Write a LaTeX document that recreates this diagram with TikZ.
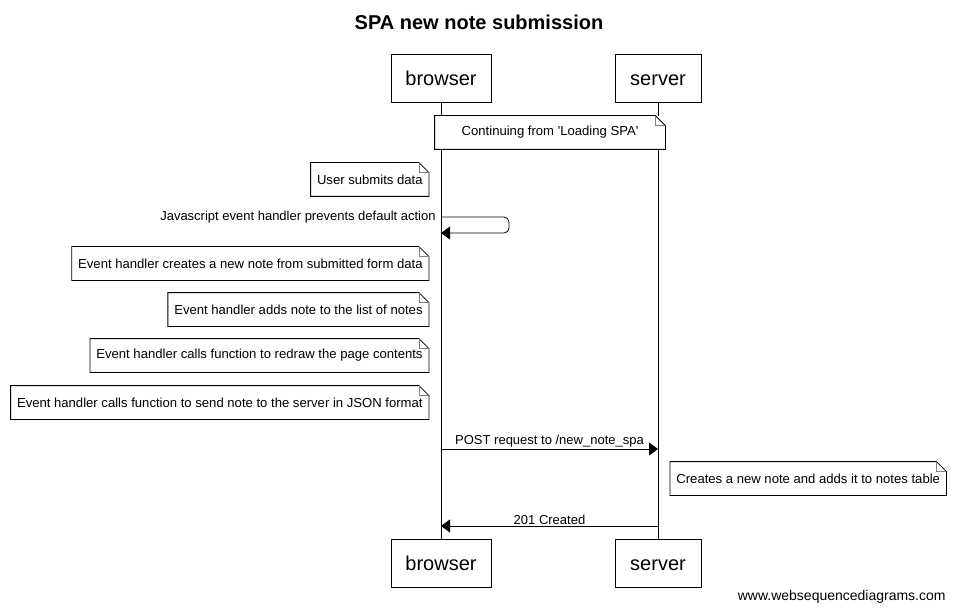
\documentclass[tikz,border=0pt]{standalone}
\usepackage{fontspec}
\setmainfont{Liberation Sans}
\usetikzlibrary{arrows.meta}

\newcommand{\notefold}[1]{%
  \draw (#1.north west) -- ([xshift=-10pt]#1.north east) -- ([yshift=-10pt]#1.north east) -- (#1.south east) -- (#1.south west) -- cycle;
  \draw[gray] ([xshift=-10pt]#1.north east) |- ([yshift=-10pt]#1.north east);}

\begin{document}
\begin{tikzpicture}[x=1pt,y=-1pt,line width=0.8pt,
  actor/.style={draw,fill=white,minimum height=48pt,inner sep=0pt,text height=17pt,text depth=2pt,font=\fontsize{20}{24}\selectfont},
  notetext/.style={fill=white,minimum height=33pt,inner xsep=6pt,inner ysep=0pt,font=\fontsize{13.1}{15}\selectfont},
  msg/.style={-{Triangle[length=9pt,width=13pt]}},
  msglabel/.style={font=\fontsize{13}{15}\selectfont,inner sep=1pt}]
\useasboundingbox (0,0) rectangle (955,612);
% title
\node[font=\bfseries\fontsize{20}{24}\selectfont] (title) at (479,22) {SPA new note submission};
% participants
\node[actor,minimum width=100pt] (browser) at (441,78) {browser};
\node[actor,minimum width=86pt] (server) at (658,78) {server};
\node[actor,minimum width=100pt] (browserEnd) at (441,563) {browser};
\node[actor,minimum width=86pt] (serverEnd) at (658,563) {server};
% lifelines
\draw (browser) -- (browserEnd);
\draw (server) -- (serverEnd);
% notes
\node[notetext,minimum width=230pt] (contNote) at (550,132.5) {Continuing from \textquotesingle Loading SPA\textquotesingle};
\notefold{contNote}
\node[notetext,anchor=east] (userNote) at (429,179.5) {User submits data};
\notefold{userNote}
% self message
\coordinate (jsA) at (441,217);
\coordinate (jsB) at (441,233);
\node[msglabel,anchor=east] (jsLabel) at (437,217) {Javascript event handler prevents default action};
\draw[msg,rounded corners=5pt] (jsA) -- ++(68,0) -- ++(0,16) -- (jsB);
\node[notetext,anchor=east] (createNote) at (429,263.5) {Event handler creates a new note from submitted form data};
\notefold{createNote}
\node[notetext,anchor=east] (addNote) at (429,309.5) {Event handler adds note to the list of notes};
\notefold{addNote}
\node[notetext,anchor=east] (redrawNote) at (429,355.5) {Event handler calls function to redraw the page contents};
\notefold{redrawNote}
\node[notetext,anchor=east] (sendNote) at (429,402.5) {Event handler calls function to send note to the server in JSON format};
\notefold{sendNote}
% POST
\coordinate (postA) at (441,449);
\coordinate (postB) at (658,449);
\draw[msg] (postA) -- node[msglabel,above] (postLabel) {POST request to /new\_note\_spa} (postB);
\node[notetext,anchor=west] (serverNote) at (670,478.5) {Creates a new note and adds it to notes table};
\notefold{serverNote}
% response
\coordinate (respA) at (658,526);
\coordinate (respB) at (441,526);
\draw[msg] (respA) -- node[msglabel,above] (respLabel) {201 Created} (respB);
\node[font=\fontsize{14}{16}\selectfont,anchor=east,inner sep=0pt] (footer) at (946,597) {www.websequencediagrams.com};
\end{tikzpicture}
\end{document}
